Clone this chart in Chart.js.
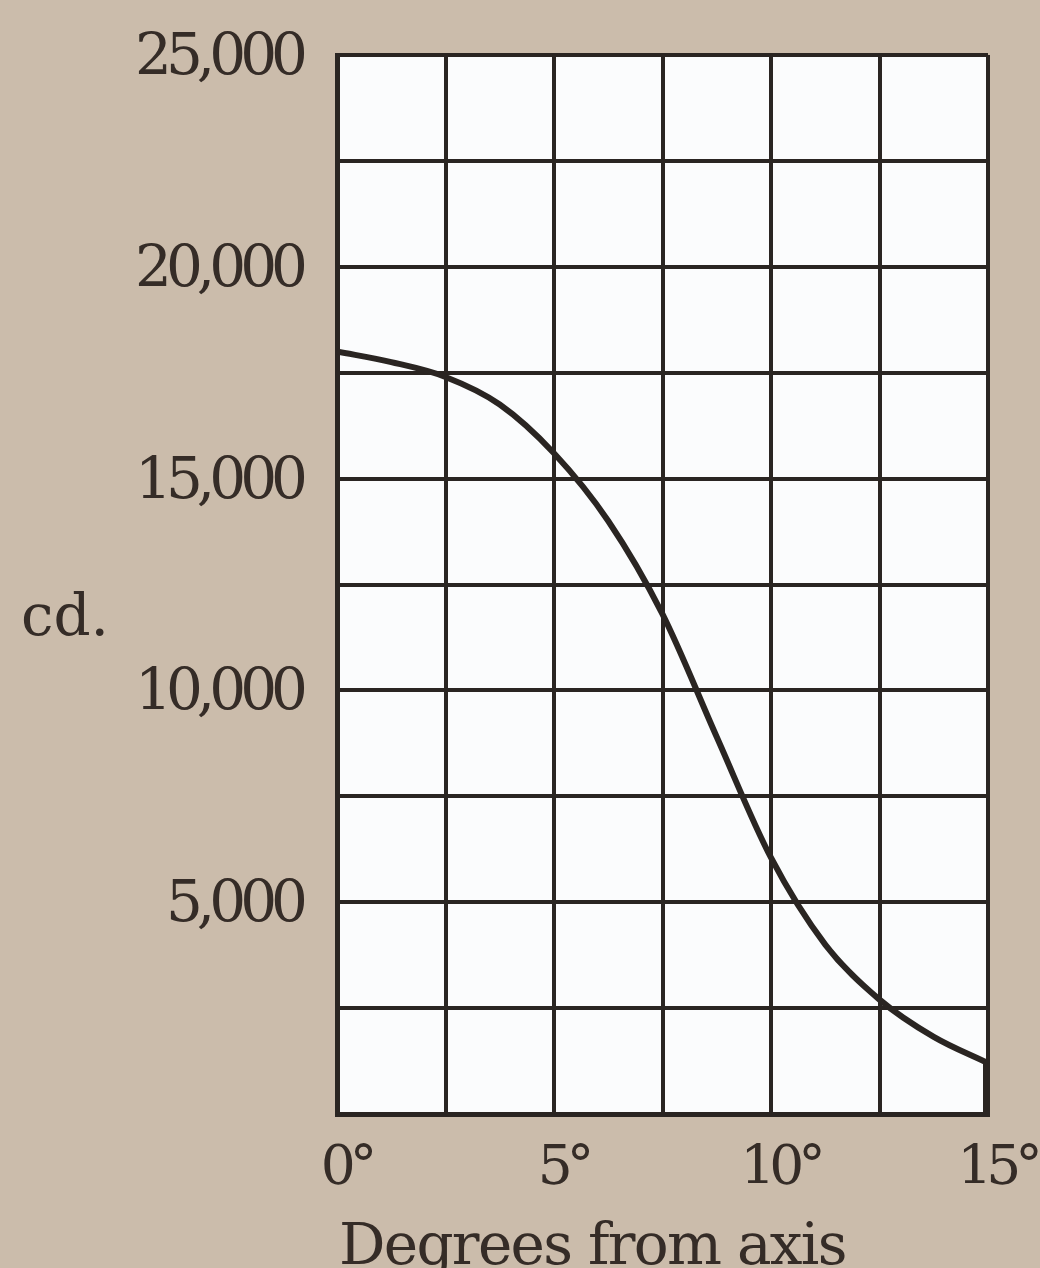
<!DOCTYPE html>
<html>
<head>
<meta charset="utf-8">
<script src="https://cdn.jsdelivr.net/npm/chart.js@4/dist/chart.umd.min.js"></script>
<style>
  html, body { margin: 0; padding: 0; background: #cbbcab; overflow: hidden; }
  canvas { display: block; }
</style>
</head>
<body>
<canvas id="c" width="1040" height="1268"></canvas>
<script>
// ---- data ----
const degrees = [0, 1.25, 2.5, 3.75, 5, 6.25, 7.5, 8.75, 10, 11.25, 12.5, 13.75, 15];
const candela = [18000, 17750, 17400, 16750, 15600, 14000, 11800, 8900, 6050, 4000, 2700, 1820, 1200];
const xTickValues = [0, 5, 10, 15];
const xTickLabels = ['0°', '5°', '10°', '15°'];
const yTickValues = [5000, 10000, 15000, 20000, 25000];
const yTickLabels = ['5,000', '10,000', '15,000', '20,000', '25,000'];
const xTitle = 'Degrees from axis';
const yTitle = 'cd.';

const INK = '#2a2522';
const TEXT = '#352c27';
const PAPER = '#cbbcab';
const FONT = '"DejaVu Serif", serif';

const curve = degrees.map((d, i) => ({ x: d, y: candela[i] }));
const lastIdx = degrees.length - 1;
const endBar = [{ x: degrees[lastIdx], y: candela[lastIdx] }, { x: degrees[lastIdx], y: 0 }];

const decor = {
  id: 'decor',
  beforeDraw(chart) {
    const { ctx, chartArea: a } = chart;
    ctx.save();
    ctx.fillStyle = PAPER;
    ctx.fillRect(0, 0, chart.width, chart.height);
    ctx.fillStyle = '#fbfcfd';
    ctx.fillRect(a.left, a.top, a.right - a.left, a.bottom - a.top);
    ctx.restore();
    ctx.letterSpacing = '-6px';
  },
  afterDraw(chart) {
    const { ctx, chartArea: a } = chart;
    ctx.letterSpacing = '0px';
    ctx.save();
    ctx.fillStyle = TEXT;
    ctx.font = '58px ' + FONT;
    ctx.textBaseline = 'alphabetic';
    ctx.textAlign = 'left';
    ctx.letterSpacing = '-1.7px';
    ctx.fillText(xTitle, a.left + 2, a.bottom + 150);
    ctx.letterSpacing = '0px';
    ctx.fillText(yTitle, 21, chart.scales.y.getPixelForValue(11300));
    ctx.restore();
  }
};

new Chart(document.getElementById('c'), {
  type: 'line',
  data: {
    datasets: [
      {
        data: curve,
        borderColor: INK,
        borderWidth: 6,
        pointRadius: 0,
        fill: false,
        cubicInterpolationMode: 'monotone'
      },
      {
        data: endBar,
        borderColor: INK,
        borderWidth: 10,
        pointRadius: 0,
        fill: false
      }
    ]
  },
  options: {
    responsive: false,
    maintainAspectRatio: false,
    animation: false,
    devicePixelRatio: 1,
    layout: { padding: { top: 55, right: 52, left: 0, bottom: 0 } },
    plugins: { legend: { display: false }, tooltip: { enabled: false } },
    scales: {
      x: {
        type: 'linear',
        min: 0,
        max: 15,
        afterFit(s) { s.height = 154; s.paddingLeft = 0; s.paddingRight = 0; },
        grid: { color: INK, lineWidth: 4, drawTicks: false },
        border: { color: INK, width: 5 },
        ticks: {
          stepSize: 2.5,
          autoSkip: false,
          maxRotation: 0,
          minRotation: 0,
          padding: 23,
          labelOffset: 9,
          color: TEXT,
          font: { family: FONT, size: 55 },
          callback(v) {
            const i = xTickValues.indexOf(v);
            return i >= 0 ? xTickLabels[i] : '';
          }
        }
      },
      y: {
        min: 0,
        max: 25000,
        afterFit(s) { s.width = 337; s.paddingTop = 0; s.paddingBottom = 0; },
        grid: { color: INK, lineWidth: 4, drawTicks: false },
        border: { color: INK, width: 5 },
        ticks: {
          stepSize: 2500,
          autoSkip: false,
          padding: 35,
          labelOffset: 4,
          color: TEXT,
          font: { family: FONT, size: 58 },
          callback(v) {
            const i = yTickValues.indexOf(v);
            return i >= 0 ? yTickLabels[i] : '';
          }
        }
      }
    }
  },
  plugins: [decor]
});
</script>
</body>
</html>
